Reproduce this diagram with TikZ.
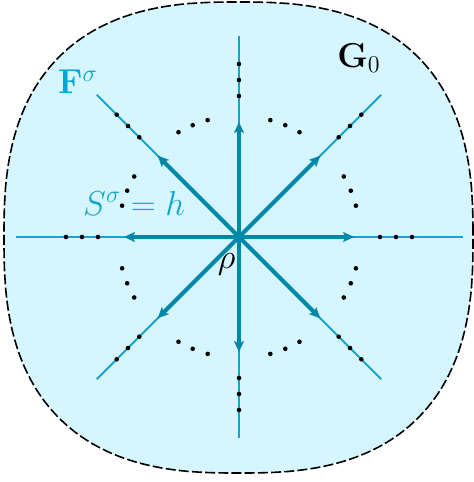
\documentclass[tikz,border=0pt]{standalone}
\usetikzlibrary{arrows.meta,calc}
\definecolor{fillc}{RGB}{213,245,255}
\definecolor{thinc}{RGB}{20,165,205}
\definecolor{thickc}{RGB}{0,136,168}
\definecolor{labc}{RGB}{0,168,214}
\begin{document}
\begin{tikzpicture}[x=0.5pt,y=-0.5pt,
  thinray/.style={thinc, line width=0.9pt},
  thickray/.style={thickc, line width=2pt, -{Stealth[length=5.5pt,width=5pt,inset=1.3pt]}},
  dotc/.style={fill=black, circle, inner sep=0pt, minimum size=2.3pt},
  blob/.style={draw=black, fill=fillc, line width=0.8pt, dash pattern=on 5pt off 1.6pt},
  lab/.style={font=\fontsize{17.5}{20}\selectfont, inner sep=0pt}]
\useasboundingbox (0,0) rectangle (474,482);
\draw[blob] plot[domain=0.5:359.5, samples=360]
  ({238.5+234.5*sign(cos(\x))*abs(cos(\x))^0.77}, {237.5-235.5*sign(sin(\x))*abs(sin(\x))^0.77}) -- cycle;
\coordinate (c) at (239,237);
\foreach \a/\r [count=\i] in {0/224,45/201,90/201,135/201,180/223,225/201,270/201,315/201}{
  \coordinate (e\i) at ($(c)+(\a:\r)$);
  \draw[thinray] (c) -- (e\i);
}
\foreach \a [count=\i] in {0,45,90,135,180,225,270,315}{
  \coordinate (t\i) at ($(c)+(\a:115)$);
  \draw[thickray] (c) -- (t\i);
}
\foreach \a [count=\i] in {0,45,90,135,180,225,270,315}{
  \foreach \rr [count=\j] in {141,157,173}
    \node[dotc] (d\i-\j) at ($(c)+(\a:\rr)$) {};
  \foreach \s [count=\j] in {-7.5,0,7.5}
    \node[dotc] (a\i-\j) at ($(c)+(\a+22.5+\s:121)$) {};
}
\node[lab, text=labc] (F) at (78,82) {$\mathbf{F}^\sigma$};
\node[lab] (G) at (359,58) {$\mathbf{G}_0$};
\node[lab, text=thinc] (S) at (134,203) {$S^\sigma = h$};
\node[lab] (rho) at (226.5,264.5) {$\rho$};
\end{tikzpicture}
\end{document}
